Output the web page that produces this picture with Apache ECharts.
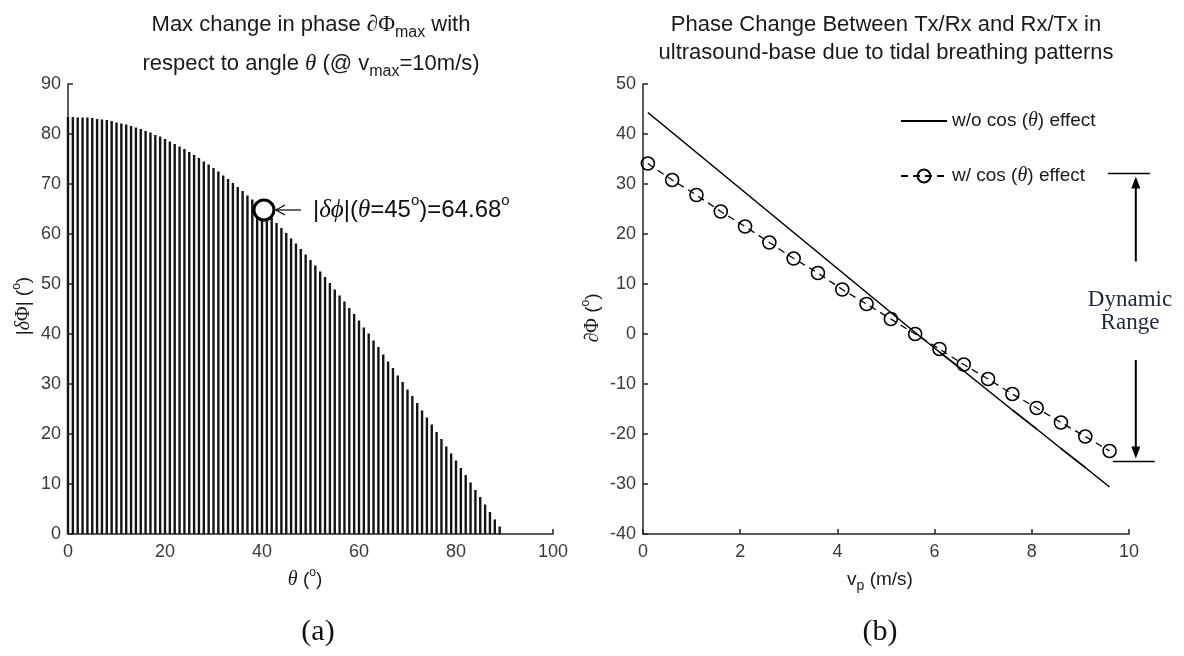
<!DOCTYPE html>
<html><head><meta charset="utf-8">
<script src="https://cdn.jsdelivr.net/npm/echarts@6/dist/echarts.min.js"></script>
<style>html,body{margin:0;padding:0;background:#fff}#c{width:1184px;height:656px}</style>
</head><body><div id="c"></div>
<script>
// ---------- data (a) ----------
const thetaDeg = [0,1,2,3,4,5,6,7,8,9,10,11,12,13,14,15,16,17,18,19,20,21,22,23,24,25,26,27,28,29,
  30,31,32,33,34,35,36,37,38,39,40,41,42,43,44,45,46,47,48,49,50,51,52,53,54,55,56,57,58,59,
  60,61,62,63,64,65,66,67,68,69,70,71,72,73,74,75,76,77,78,79,80,81,82,83,84,85,86,87,88,89];
const phaseMax = [83.4,83.4,83.3,83.3,83.3,83.2,83.0,82.9,82.8,82.6,82.3,82.1,81.9,81.6,81.3,81.0,80.6,80.3,79.8,79.5,
  79.0,78.5,78.0,77.5,77.0,76.4,75.8,75.2,74.5,73.9,73.2,72.5,71.7,71.0,70.2,69.4,68.6,67.7,66.9,66.0,
  65.1,64.1,63.2,62.2,61.2,60.2,59.1,58.1,57.0,55.9,54.8,53.7,52.5,51.4,50.2,48.9,47.7,46.5,45.2,44.0,
  42.7,41.3,40.1,38.7,37.4,35.9,34.5,33.2,31.7,30.4,28.9,27.6,26.2,24.7,23.3,21.9,20.4,19.0,17.5,16.1,
  14.7,13.2,11.8,10.3,8.8,7.4,5.9,4.4,2.9,1.5];
const markerPoint = [40.4, 64.8];
const markerLabel = '|{i|δϕ}|({i|θ}=45{sup|o})=64.68{sup|o}';

// ---------- data (b) ----------
const vp = [0.1,0.6,1.1,1.6,2.1,2.6,3.1,3.6,4.1,4.6,5.1,5.6,6.1,6.6,7.1,7.6,8.1,8.6,9.1,9.6];
const phaseNoCos = [44.3,40.3,36.3,32.3,28.3,24.3,20.3,16.3,12.3,8.3,4.3,0.3,-3.6,-7.4,-11.3,-15.2,-19.0,-22.9,-26.7,-30.6];
const phaseCos = [34.1,30.8,27.8,24.5,21.5,18.3,15.1,12.2,8.9,6.0,3.0,0.0,-3.0,-6.1,-9.0,-12.0,-14.8,-17.7,-20.5,-23.4];
const seriesNames = ['w/o cos (θ) effect', 'w/ cos (θ) effect'];
const dynTop = 32.1, dynBottom = -25.5;

// ---------- styling ----------
const SANS = 'Liberation Sans';
const SERIF = 'Liberation Serif';
const axisLineStyle = {color:'#262626', width:1.5};
const tickLabel = {fontFamily:SANS, fontSize:18, color:'#3a3a3a'};
function rich(fs){
  return {
    i:{fontFamily:SERIF, fontStyle:'italic', fontSize:fs+1, lineHeight:fs*1.4},
    s:{fontFamily:SERIF, fontSize:fs+1, lineHeight:fs*1.4},
    sub:{fontFamily:SANS, fontSize:Math.round(fs*0.72), lineHeight:Math.round(fs*0.72), verticalAlign:'bottom'},
    sup:{fontFamily:SANS, fontSize:Math.round(fs*0.62), lineHeight:Math.round(fs*0.62), verticalAlign:'top'}
  };
}
function xAxisOf(grid, min, max, interval){
  return {gridIndex:grid, type:'value', min, max, interval,
    axisLine:{show:true, onZero:false, lineStyle:axisLineStyle},
    axisTick:{show:true, inside:true, length:5, lineStyle:axisLineStyle},
    axisLabel:Object.assign({margin:9}, tickLabel),
    splitLine:{show:false}};
}
function yAxisOf(grid, min, max, interval){
  return {gridIndex:grid, type:'value', min, max, interval,
    axisLine:{show:true, onZero:false, lineStyle:axisLineStyle},
    axisTick:{show:true, inside:true, length:5, lineStyle:axisLineStyle},
    axisLabel:Object.assign({margin:7}, tickLabel),
    splitLine:{show:false}};
}

const chart = echarts.init(document.getElementById('c'));
chart.setOption({
  animation:false,
  backgroundColor:'#fff',
  grid:[{left:68, top:84, width:485, height:450},{left:643, top:84, width:486, height:450}],
  xAxis:[xAxisOf(0,0,100,20), xAxisOf(1,0,10,2)],
  yAxis:[yAxisOf(0,0,90,10), yAxisOf(1,-40,50,10)],
  legend:{
    data:seriesNames, left:895, top:106, orient:'vertical', itemGap:35,
    itemWidth:46, itemHeight:16, selectedMode:false,
    textStyle:{fontFamily:SANS, fontSize:19, color:'#1a1a1a', rich:rich(19)},
    formatter:(n)=>n.replace('θ','{i|θ}')
  },
  series:[
    {type:'bar', xAxisIndex:0, yAxisIndex:0, barWidth:2.4, silent:true,
      itemStyle:{color:'#141414'},
      data:thetaDeg.map((t,i)=>[t, phaseMax[i]])},
    {type:'scatter', xAxisIndex:0, yAxisIndex:0, symbol:'circle', symbolSize:20, z:5, silent:true,
      itemStyle:{color:'#fff', borderColor:'#000', borderWidth:3, opacity:1},
      data:[markerPoint]},
    {type:'line', name:seriesNames[0], xAxisIndex:1, yAxisIndex:1, symbol:'circle', showSymbol:false, silent:true,
      itemStyle:{color:'rgba(0,0,0,0)', borderWidth:0},
      lineStyle:{color:'#000', width:1.6},
      data:vp.map((v,i)=>[v, phaseNoCos[i]])},
    {type:'line', name:seriesNames[1], xAxisIndex:1, yAxisIndex:1, symbol:'circle', symbolSize:13, silent:true,
      itemStyle:{color:'rgba(0,0,0,0)', borderColor:'#000', borderWidth:1.6},
      lineStyle:{color:'#000', width:1.3, type:[7,5]},
      data:vp.map((v,i)=>[v, phaseCos[i]])}
  ]
});

// ---------- annotations ----------
function txt(x, y, text, fs, extra){
  return Object.assign({type:'text', x, y, silent:true,
    style:{text, fontFamily:SANS, fontSize:fs, fill:'#1a1a1a', align:'center', verticalAlign:'middle',
      lineHeight:fs*1.4, rich:rich(fs)}}, extra||{});
}
const g = [];
// titles
g.push(txt(311, 25, 'Max change in phase {s|∂Φ}{sub|max} with', 22));
g.push(txt(311, 64, 'respect to angle {i|θ} (@ v{sub|max}=10m/s)', 22));
g.push(txt(886, 25, 'Phase Change Between Tx/Rx and Rx/Tx in', 22));
g.push(txt(886, 53, 'ultrasound-base due to tidal breathing patterns', 22));
// axis names
g.push(txt(305, 580, '{i|θ} ({sup|o})', 19));
g.push(txt(880, 580, 'v{sub|p} (m/s)', 19));
g.push(txt(24, 306, '|{i|δ}{s|Φ}| ({sup|o})', 19, {rotation:Math.PI/2}));
g.push(txt(593, 318, '{s|∂Φ} ({sup|o})', 19, {rotation:Math.PI/2}));
// panel labels
g.push({type:'text', x:318, y:632, silent:true, style:{text:'(a)', fontFamily:SERIF, fontSize:30, fill:'#111', align:'center', verticalAlign:'middle'}});
g.push({type:'text', x:880, y:632, silent:true, style:{text:'(b)', fontFamily:SERIF, fontSize:30, fill:'#111', align:'center', verticalAlign:'middle'}});

// marker arrow + label
const mp = chart.convertToPixel({gridIndex:0}, markerPoint);
g.push({type:'line', silent:true, shape:{x1:mp[0]+12, y1:mp[1], x2:mp[0]+37, y2:mp[1]}, style:{stroke:'#000', lineWidth:1.2}});
g.push({type:'polyline', silent:true, shape:{points:[[mp[0]+21, mp[1]-5],[mp[0]+12, mp[1]],[mp[0]+21, mp[1]+5]]}, style:{stroke:'#000', lineWidth:1.2, fill:null}});
g.push({type:'text', x:mp[0]+49, y:mp[1], silent:true,
  style:{text:markerLabel, fontFamily:SANS, fontSize:24, fill:'#111', align:'left', verticalAlign:'middle', lineHeight:34, rich:rich(24)}});

// dynamic range
const P = (v, y) => chart.convertToPixel({gridIndex:1}, [v, y]);
const t1 = P(9.57, dynTop), t2 = P(10.43, dynTop);
const b1 = P(9.67, dynBottom), b2 = P(10.53, dynBottom);
g.push({type:'line', silent:true, shape:{x1:t1[0], y1:t1[1], x2:t2[0], y2:t2[1]}, style:{stroke:'#000', lineWidth:1.6}});
g.push({type:'line', silent:true, shape:{x1:b1[0], y1:b1[1], x2:b2[0], y2:b2[1]}, style:{stroke:'#000', lineWidth:1.6}});
const ax = P(10.14, 0)[0];
const upStart = P(10.14, 14.5)[1], downStart = P(10.14, -5.2)[1];
g.push({type:'line', silent:true, shape:{x1:ax, y1:upStart, x2:ax, y2:t1[1]+12}, style:{stroke:'#000', lineWidth:2}});
g.push({type:'polygon', silent:true, shape:{points:[[ax, t1[1]+3],[ax-4.5, t1[1]+15],[ax+4.5, t1[1]+15]]}, style:{fill:'#000'}});
g.push({type:'line', silent:true, shape:{x1:ax, y1:downStart, x2:ax, y2:b1[1]-12}, style:{stroke:'#000', lineWidth:2}});
g.push({type:'polygon', silent:true, shape:{points:[[ax, b1[1]-3],[ax-4.5, b1[1]-15],[ax+4.5, b1[1]-15]]}, style:{fill:'#000'}});
const tc = P(10.02, 4.6);
g.push({type:'text', x:tc[0], y:tc[1], silent:true,
  style:{text:'Dynamic\nRange', fontFamily:SERIF, fontSize:23, lineHeight:23, fill:'#1c2840', align:'center', verticalAlign:'middle'}});

chart.setOption({graphic:g});
</script>
</body></html>
